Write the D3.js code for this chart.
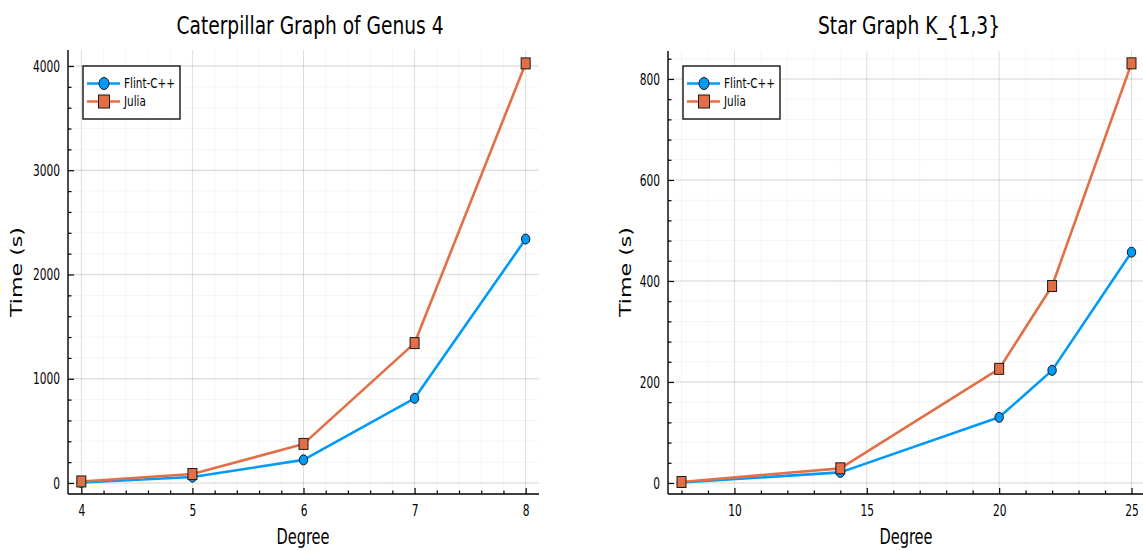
<!DOCTYPE html>
<html>
<head>
<meta charset="utf-8">
<script src="https://cdn.jsdelivr.net/npm/d3@7"></script>
<style>
  html, body { margin: 0; padding: 0; background: #fff; }
  svg { display: block; }
</style>
</head>
<body>
<svg id="chart" width="1143" height="551"></svg>
<script>
// ---------- data ----------
const seriesNames = ["Flint-C++", "Julia"];
const seriesColors = ["#009AFA", "#E26F46"];

const caterpillarDegree = [4, 5, 6, 7, 8];
const caterpillarFlint = [5, 57, 222, 812, 2340];
const caterpillarJulia = [15, 86, 375, 1342, 4025];
const caterpillarXTicks = [4, 5, 6, 7, 8];
const caterpillarYTicks = [0, 1000, 2000, 3000, 4000];

const starDegree = [8, 14, 20, 22, 25];
const starFlint = [1, 21, 130, 223, 457];
const starJulia = [2, 29, 226, 390, 831];
const starXTicks = [10, 15, 20, 25];
const starYTicks = [0, 200, 400, 600, 800];

const titles = ["Caterpillar Graph of Genus 4", "Star Graph K_{1,3}"];
const xLabel = "Degree";
const yLabel = "Time (s)";

// ---------- layout ----------
const FONT = "'DejaVu Sans Condensed', 'Liberation Sans', sans-serif";
const svg = d3.select("#chart");

// horizontal squeeze of a text to mimic the narrow font of the original
function squeeze(sel, factor) {
  sel.each(function () {
    const w = this.getComputedTextLength();
    d3.select(this).attr("textLength", w * factor).attr("lengthAdjust", "spacingAndGlyphs");
  });
}
function fitTo(sel, target) {
  sel.attr("textLength", target).attr("lengthAdjust", "spacingAndGlyphs");
}
// measure a reference string to get squeeze factor
function factorFor(str, size, target) {
  const t = svg.append("text").attr("font-family", FONT).attr("font-size", size).text(str);
  const w = t.node().getComputedTextLength();
  t.remove();
  return target / w;
}
const tickFactor = factorFor("4000", 16, 27);
const legendFactor = factorFor("Flint-C++", 14, 51);

const panels = [
  {
    title: titles[0], x: caterpillarDegree, ys: [caterpillarFlint, caterpillarJulia],
    xTicks: caterpillarXTicks, yTicks: caterpillarYTicks,
    xDomain: [3.88, 8.12], yDomain: [-105.5, 4153.4],
    left: 68, right: 539, top: 50, bottom: 494,
    xMinorStep: 0.2, yMinorStep: 200, titleX: 310, titleW: 267, xLabelX: 303,
    legend: { x: 83, y: 66, w: 97, h: 53 }, yLabelX: 22
  },
  {
    title: titles[1], x: starDegree, ys: [starFlint, starJulia],
    xTicks: starXTicks, yTicks: starYTicks,
    xDomain: [7.49, 25.51], yDomain: [-21.8, 855.4],
    left: 668, right: 1145, top: 51, bottom: 494,
    xMinorStep: 1, yMinorStep: 40, titleX: 909, titleW: 182, xLabelX: 906,
    legend: { x: 683, y: 66, w: 97, h: 53 }, yLabelX: 631
  }
];

panels.forEach(p => {
  const g = svg.append("g");
  const x = d3.scaleLinear().domain(p.xDomain).range([p.left, p.right]);
  const y = d3.scaleLinear().domain(p.yDomain).range([p.bottom, p.top]);

  const xMinor = d3.range(Math.ceil(p.xDomain[0] / p.xMinorStep) * p.xMinorStep, p.xDomain[1], p.xMinorStep)
    .map(v => +v.toFixed(6));
  const yMinor = d3.range(Math.ceil(p.yDomain[0] / p.yMinorStep) * p.yMinorStep, p.yDomain[1], p.yMinorStep)
    .map(v => +v.toFixed(6));

  // minor grid
  g.append("g").selectAll("line").data(xMinor).join("line")
    .attr("x1", d => x(d)).attr("x2", d => x(d)).attr("y1", p.top).attr("y2", p.bottom)
    .attr("stroke", "rgba(0,0,0,0.045)").attr("stroke-width", 1);
  g.append("g").selectAll("line").data(yMinor).join("line")
    .attr("y1", d => y(d)).attr("y2", d => y(d)).attr("x1", p.left).attr("x2", p.right)
    .attr("stroke", "rgba(0,0,0,0.045)").attr("stroke-width", 1);
  // major grid
  g.append("g").selectAll("line").data(p.xTicks).join("line")
    .attr("x1", d => x(d)).attr("x2", d => x(d)).attr("y1", p.top).attr("y2", p.bottom)
    .attr("stroke", "rgba(0,0,0,0.09)").attr("stroke-width", 1);
  g.append("g").selectAll("line").data(p.yTicks).join("line")
    .attr("y1", d => y(d)).attr("y2", d => y(d)).attr("x1", p.left).attr("x2", p.right)
    .attr("stroke", "rgba(0,0,0,0.09)").attr("stroke-width", 1.4);

  // axes (ticks pointing inward)
  const xAxisG = g.append("g").attr("transform", `translate(0,${p.bottom})`)
    .call(d3.axisBottom(x).tickValues(p.xTicks).tickSize(-6).tickPadding(14).tickFormat(d3.format("d")));
  const xMinorG = g.append("g").attr("transform", `translate(0,${p.bottom})`)
    .call(d3.axisBottom(x).tickValues(xMinor.filter(v => !p.xTicks.includes(v))).tickSize(-3.5).tickFormat(""));
  const yAxisG = g.append("g").attr("transform", `translate(${p.left},0)`)
    .call(d3.axisLeft(y).tickValues(p.yTicks).tickSize(-6).tickPadding(8).tickFormat(d3.format("d")));
  const yMinorG = g.append("g").attr("transform", `translate(${p.left},0)`)
    .call(d3.axisLeft(y).tickValues(yMinor.filter(v => !p.yTicks.includes(v))).tickSize(-3.5).tickFormat(""));

  [xAxisG, xMinorG, yAxisG, yMinorG].forEach(a => {
    a.select(".domain").attr("stroke", "#000").attr("stroke-width", 1.4);
    a.selectAll(".tick line").attr("stroke", "#000").attr("stroke-width", 1.2);
    a.selectAll(".tick text").attr("font-family", FONT).attr("font-size", 16).attr("fill", "#000");
  });
  xAxisG.select(".domain").attr("d", `M${p.left},0H${p.right}`);
  xMinorG.select(".domain").remove();
  yAxisG.select(".domain").attr("d", `M0,${p.bottom}V${p.top}`);
  yMinorG.select(".domain").remove();
  xAxisG.selectAll(".tick text").attr("dy", "0.35em").attr("y", 16);
  squeeze(xAxisG.selectAll(".tick text"), tickFactor);
  squeeze(yAxisG.selectAll(".tick text"), tickFactor);

  // series
  const line = d3.line().x((d, i) => x(p.x[i])).y(d => y(d));
  p.ys.forEach((vals, si) => {
    g.append("path").datum(vals).attr("d", line)
      .attr("fill", "none").attr("stroke", seriesColors[si]).attr("stroke-width", 2.6)
      .attr("stroke-linejoin", "round");
    const m = g.append("g").selectAll("g").data(vals).join("g")
      .attr("transform", (d, i) => `translate(${x(p.x[i])},${y(d)})`);
    if (si === 0) {
      m.append("ellipse").attr("rx", 4.2).attr("ry", 5).attr("fill", seriesColors[si])
        .attr("stroke", "#1a1a1a").attr("stroke-width", 1);
    } else {
      m.append("rect").attr("x", -4.5).attr("y", -5.5).attr("width", 9).attr("height", 11)
        .attr("fill", seriesColors[si]).attr("stroke", "#1a1a1a").attr("stroke-width", 1);
    }
  });

  // title
  const tt = g.append("text").attr("x", p.titleX).attr("y", 34).attr("text-anchor", "middle")
    .attr("font-family", FONT).attr("font-size", 25).attr("fill", "#000").text(p.title);
  fitTo(tt, p.titleW);
  // x label
  const xl = g.append("text").attr("x", p.xLabelX).attr("y", 544).attr("text-anchor", "middle")
    .attr("font-family", FONT).attr("font-size", 21).attr("fill", "#000").text(xLabel);
  fitTo(xl, 53);
  // y label
  const yl = g.append("text").attr("transform", `translate(${p.yLabelX},272) rotate(-90)`)
    .attr("text-anchor", "middle").attr("font-family", "'DejaVu Sans', sans-serif")
    .attr("font-size", 16).attr("fill", "#000").text(yLabel);
  fitTo(yl, 90);

  // legend
  const L = p.legend;
  const lg = g.append("g");
  lg.append("rect").attr("x", L.x).attr("y", L.y).attr("width", L.w).attr("height", L.h)
    .attr("fill", "#fff").attr("stroke", "#222").attr("stroke-width", 1.5);
  seriesNames.forEach((name, si) => {
    const cy = L.y + 17.5 + si * 18;
    lg.append("line").attr("x1", L.x + 4).attr("x2", L.x + 37).attr("y1", cy).attr("y2", cy)
      .attr("stroke", seriesColors[si]).attr("stroke-width", 2.6);
    if (si === 0) {
      lg.append("ellipse").attr("cx", L.x + 21).attr("cy", cy).attr("rx", 5).attr("ry", 6)
        .attr("fill", seriesColors[si]).attr("stroke", "#1a1a1a").attr("stroke-width", 1);
    } else {
      lg.append("rect").attr("x", L.x + 15.5).attr("y", cy - 6.5).attr("width", 11).attr("height", 13)
        .attr("fill", seriesColors[si]).attr("stroke", "#1a1a1a").attr("stroke-width", 1);
    }
    const lt = lg.append("text").attr("x", L.x + 41).attr("y", cy).attr("dy", "0.35em")
      .attr("font-family", FONT).attr("font-size", 14).attr("fill", "#000").text(name);
    squeeze(lt, legendFactor);
  });
});
</script>
</body>
</html>
